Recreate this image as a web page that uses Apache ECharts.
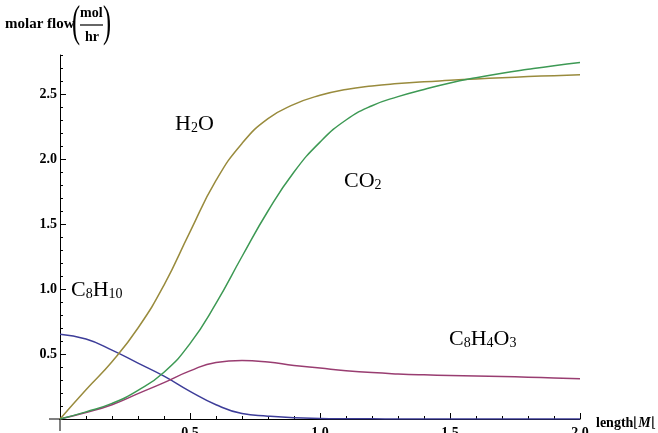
<!DOCTYPE html>
<html>
<head>
<meta charset="utf-8">
<script src="https://cdn.jsdelivr.net/npm/echarts@6/dist/echarts.min.js"></script>
<style>
html,body{margin:0;padding:0;background:#fff;}
#chart{width:658px;height:433px;}
</style>
</head>
<body>
<div id="chart"></div>
<script>
// ---- data ----
const lengths = [0,0.1,0.2,0.3,0.4,0.5,0.6,0.7,0.8,0.9,1.0,1.1,1.2,1.3,1.4,1.5,1.6,1.7,1.8,1.9,2.0];
const h2o    = [0,0.225,0.44,0.70,1.03,1.44,1.835,2.12,2.31,2.42,2.49,2.535,2.562,2.58,2.594,2.605,2.616,2.625,2.634,2.641,2.648];
const co2    = [0,0.055,0.12,0.22,0.36,0.58,0.89,1.25,1.60,1.90,2.13,2.30,2.41,2.48,2.535,2.585,2.625,2.66,2.69,2.718,2.743];
const c8h4o3 = [0,0.05,0.11,0.195,0.28,0.37,0.435,0.45,0.438,0.412,0.392,0.372,0.357,0.347,0.34,0.335,0.331,0.327,0.322,0.316,0.31];
const c8h10  = [0.652,0.615,0.53,0.43,0.33,0.213,0.11,0.042,0.022,0.009,0.004,0.002,0.001,0,0,0,0,0,0,0,0];
const xTickLabels = [0.5,1.0,1.5,2.0];
const yTickLabels = [0.5,1.0,1.5,2.0,2.5];

const pairs = ys => lengths.map((x,i)=>[x, ys[i]]);
const serif = '"Liberation Serif","Times New Roman",serif';

const chart = echarts.init(document.getElementById('chart'), null, {renderer:'canvas'});

function lineSeries(name, ys, color){
  return {
    name, type:'line', data: pairs(ys), showSymbol:false, smooth:0.5,
    lineStyle:{color, width:1.5}, itemStyle:{color}, xAxisIndex:0, yAxisIndex:0, z:3
  };
}

const option = {
  animation:false,
  backgroundColor:'#fff',
  grid:{left:60, right:78, top:55, bottom:14, containLabel:false, outerBoundsMode:'none'},
  xAxis:[{
    type:'value', min:0, max:2, interval:0.5,
    axisLine:{onZero:false, lineStyle:{color:'#000', width:1}},
    axisTick:{inside:true, length:6, lineStyle:{color:'#000', width:1}},
    minorTick:{show:true, splitNumber:5, length:3, lineStyle:{color:'#000', width:1}},
    splitLine:{show:false},
    axisLabel:{
      customValues: xTickLabels,
      formatter: v => v.toFixed(1),
      fontFamily: serif, fontWeight:'bold', fontSize:14, color:'#000', margin:7
    },
    name:'{n|length}{b|⌊}{m|M}{b|⌊}', nameLocation:'end', nameGap:16,
    nameTextStyle:{
      verticalAlign:'middle', padding:[8,0,0,0],
      rich:{
        n:{fontFamily:serif, fontWeight:'bold', fontSize:14, color:'#000'},
        b:{fontFamily:serif, fontSize:14, color:'#000'},
        m:{fontFamily:serif, fontStyle:'italic', fontWeight:'bold', fontSize:14, color:'#000'}
      }
    }
  }],
  yAxis:[{
    type:'value', min:0, max:2.8, interval:0.1, position:'left',
    axisLine:{show:true, onZero:false, lineStyle:{color:'#000', width:1}},
    axisTick:{inside:true, length:3, lineStyle:{color:'#000', width:1}},
    axisLabel:{show:false},
    splitLine:{show:false}
  },{
    type:'value', min:0, max:2.8, interval:0.5, position:'left', offset:0,
    axisLine:{show:false},
    axisTick:{inside:true, length:6, customValues: yTickLabels, lineStyle:{color:'#000', width:1}},
    axisLabel:{
      customValues: yTickLabels,
      formatter: v => v.toFixed(1),
      fontFamily: serif, fontWeight:'bold', fontSize:14, color:'#000', margin:3
    },
    splitLine:{show:false}
  }],
  series:[
    lineSeries('C8H10', c8h10, '#3D3D99'),
    lineSeries('C8H4O3', c8h4o3, '#993D71'),
    lineSeries('H2O', h2o, '#998B3D'),
    lineSeries('CO2', co2, '#3D9954')
  ],
  graphic:[]
};
chart.setOption(option);

// decorations: axis stubs beyond origin, y-axis title, curve labels
const o = chart.convertToPixel({gridIndex:0}, [0,0]);
const richMain = {
  n:{fontFamily:serif, fontSize:22, color:'#000', lineHeight:26, verticalAlign:'bottom'},
  s:{fontFamily:serif, fontSize:14, color:'#000', lineHeight:9, verticalAlign:'bottom'}
};
function formula(txt, x, y){
  return {type:'text', left:x, top:y, z:10, style:{text:txt, rich:richMain}};
}
chart.setOption({graphic:[
  {type:'line', shape:{x1:o[0]-11, y1:o[1], x2:o[0], y2:o[1]}, style:{stroke:'#000', lineWidth:1}},
  {type:'line', shape:{x1:o[0], y1:o[1], x2:o[0], y2:o[1]+12}, style:{stroke:'#000', lineWidth:1}},
  {type:'text', x:5, y:24, style:{text:'molar flow', fontFamily:serif, fontWeight:'bold', fontSize:15, fill:'#000', verticalAlign:'middle'}},
  {type:'text', x:72, y:24, scaleX:0.55, style:{text:'(', fontFamily:serif, fontSize:44, fill:'#000', verticalAlign:'middle'}},
  {type:'text', x:80, y:13, style:{text:'mol', fontFamily:serif, fontWeight:'bold', fontSize:14, fill:'#000', verticalAlign:'middle'}},
  {type:'line', shape:{x1:80, y1:25, x2:103, y2:25}, style:{stroke:'#000', lineWidth:1.2}},
  {type:'text', x:85, y:37, style:{text:'hr', fontFamily:serif, fontWeight:'bold', fontSize:14, fill:'#000', verticalAlign:'middle'}},
  {type:'text', x:103, y:24, scaleX:0.55, style:{text:')', fontFamily:serif, fontSize:44, fill:'#000', verticalAlign:'middle'}},
  formula('{n|H}{s|2}{n|O}', 175, 113),
  formula('{n|CO}{s|2}', 344, 170),
  formula('{n|C}{s|8}{n|H}{s|10}', 71, 279),
  formula('{n|C}{s|8}{n|H}{s|4}{n|O}{s|3}', 449, 328)
]});
</script>
</body>
</html>
